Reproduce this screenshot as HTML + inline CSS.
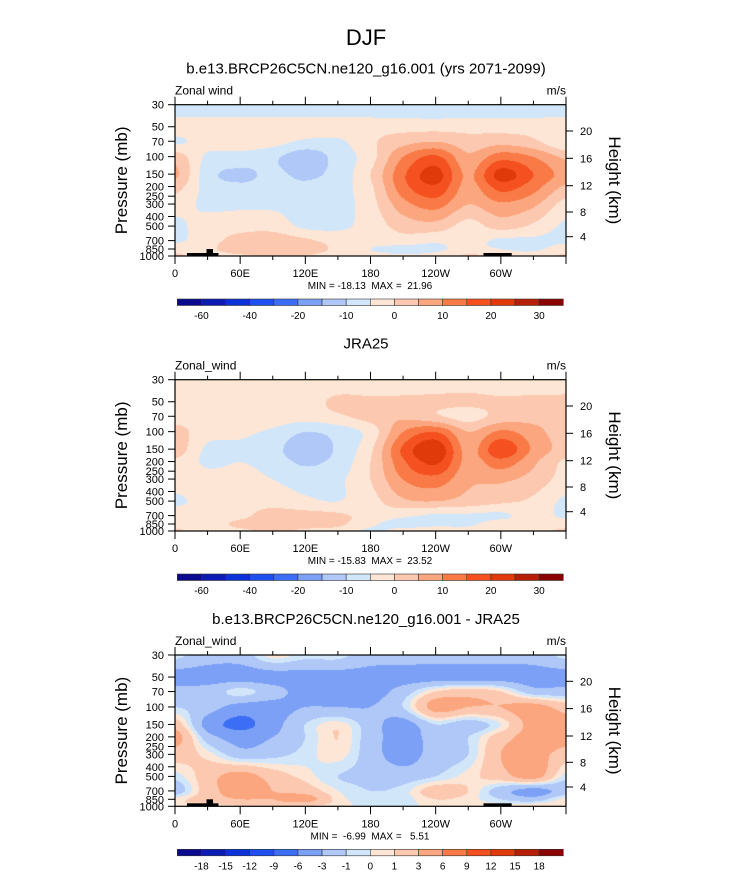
<!DOCTYPE html>
<html><head><meta charset="utf-8">
<style>
body{margin:0;background:#fff;width:733px;height:872px;overflow:hidden;position:relative;font-family:"Liberation Sans",sans-serif;}
canvas{position:absolute;left:0;top:0;}
svg{position:absolute;left:0;top:0;}
svg text{white-space:pre;}
</style></head>
<body>
<canvas id="cv" width="733" height="872"></canvas>
<svg id="sv" width="733" height="872" font-family="Liberation Sans, sans-serif">
<text x="366" y="45" font-size="22" text-anchor="middle">DJF</text>
</svg>
<script>
// ---------- data ----------
const lons = [0,30,60,90,120,150,180,210,240,270,300,330,360];
const levels = [30,50,70,100,150,200,300,500,700,850,1000];
const thresholdsA = [-60,-50,-40,-30,-20,-15,-10,-5,0,5,10,15,20,25,30];
const labelsA = ["-60","","-40","","-20","","-10","","0","","10","","20","","30"];
const thresholdsB = [-18,-15,-12,-9,-6,-3,-1,0,1,3,6,9,12,15,18];
const labelsB = ["-18","-15","-12","-9","-6","-3","-1","0","1","3","6","9","12","15","18"];
const lonTickLabels = ["0","60E","120E","180","120W","60W"];
const pTickLabels = [30,50,70,100,150,200,250,300,400,500,700,850,1000];
const heightTicks = [20,16,12,8,4];
const model = [
[-9,-9,-9,-9,-9,-9,-9,-9,-9,-9,-9,-9,-9],
[-2,-2,-2,-2,-2,-2,-2,-2,-2,-2,-2,-2,-2],
[-6,-3,-2,-3,-6,-6,-1,3,5,2,3,1,-5],
[3,-6,-7,-9,-13,-8,-2,10,16,6,13,10,4],
[6,-8,-11,-9,-11,-8,0,14,22,9,22,15,8],
[2,-7,-9,-8,-9,-7,-1,13,19,8,17,12,4],
[-3,-6,-6,-6,-7,-7,-2,8,12,5,9,6,-2],
[-6,-3,-2,-2,-6,-6,-3,2,3,-2,2,-1,-6],
[-6,-2,2,3,1,-2,-3,-2,-4,-3,-6,-6,-6],
[-2,-1,3,4,2,-1,-5,-7,-6,-3,-5,-6,-2],
[1,-2,-1,1,0,-2,-3,-4,-3,1,-1,-2,1]];
const obs = [
[-2,-2,-2,-2,-3,-3,-3,-2,-2,-2,-3,-2,-2],
[-2,-2,-2,-2,-2,1,1,1,1,1,1,1,1],
[-2,-2,-2,-2,-3,-1,2,4,1,-2,2,3,2],
[2,-3,-4,-6,-10,-8,-3,10,15,5,11,7,2],
[3,-6,-6,-8,-14,-9,-1,16,24,8,19,9,3],
[-1,-6,-5,-7,-11,-8,0,14,21,8,13,6,-1],
[-2,-3,-3,-5,-7,-6,0,10,13,6,6,3,-2],
[-6,-3,-2,-2,-4,-5,-2,4,5,3,1,-1,-6],
[-2,-2,-1,2,2,1,-2,-4,-6,-6,-6,-3,-6],
[-2,-2,1,2,2,1,-4,-7,-6,-6,-2,-3,-2],
[1,-2,-1,1,-1,-2,-6,-3,-2,-2,-1,-1,1]];
const diff = [
[-0.5,-2,-2,0.5,-0.5,-0.5,-2,-2,-2,-2,-2,-2,-0.5],
[-4,-4,-4,-4,-4,-4,-4,-4,-4,-4,-4,-4,-4],
[-2,-2,-0.5,-2,-4,-4,-4,-2,1,2,1,-2,-2],
[-1,-2,-4,-4,-3,-3,-3,-1,4,3,3,4,2],
[2,-4,-7,-4,-1,0.5,-2,-4,-1,-2,0,4,4],
[4,-2,-4,-3,-1,1,-2,-4,-2,-1,2,4,4],
[2,0.5,-2,-1.5,-0.5,0.5,-2,-4,-2,-1,3,4,2],
[-0.5,2,4,2,0.5,-1,-1.5,-2,-1,0.5,2,4,-0.5],
[-2,2,4,3,2,0,-1,-0.5,2,1,-2,-4,-2],
[0.5,2,3,3,4,0.5,-0.5,-0.5,1,0.5,-1,-2,0.5],
[1,0.5,1,2,1,0.5,-0.5,-0.5,0.5,0.5,0.5,1,1]];
const palette = ["#0a0a8f","#0a1cb4","#0a32d8","#1e50f0","#3c6ef5","#7ba0f5","#b0c8f8","#d2e6fa","#fde6d6","#fcc8b0","#fba67e","#f97a46","#f55020","#e03a0a","#b81e05","#8b0000"];

// ---------- layout ----------
const X0=175, W=391, H=151.3;
const panels=[
 {top:104.7,data:model,thr:thresholdsA,lab:labelsA,title:"b.e13.BRCP26C5CN.ne120_g16.001 (yrs 2071-2099)",left:"Zonal wind",mm:"MIN = -18.13  MAX =  21.96",topo:true},
 {top:379.7,data:obs,thr:thresholdsA,lab:labelsA,title:"JRA25",left:"Zonal_wind",mm:"MIN = -15.83  MAX =  23.52",topo:false},
 {top:655,data:diff,thr:thresholdsB,lab:labelsB,title:"b.e13.BRCP26C5CN.ne120_g16.001 - JRA25",left:"Zonal_wind",mm:"MIN =  -6.99  MAX =   5.51",topo:true}];
const xOf=lon=>X0+lon/360*W;
const yOf=(p,top)=>top+Math.log(p/30)/Math.log(1000/30)*H;
const hOff={20:26.3,16:53.6,12:81,8:107.3,4:132};

function cr(p0,p1,p2,p3,t){return 0.5*((2*p1)+(-p0+p2)*t+(2*p0-5*p1+4*p2-p3)*t*t+(-p0+3*p1-3*p2+p3)*t*t*t);}
function sample(g,fx,fy){
  const nr=g.length,nc=g[0].length;
  const ix=Math.min(Math.floor(fx),nc-2),iy=Math.min(Math.floor(fy),nr-2);
  const tx=fx-ix,ty=fy-iy;
  const rowv=[];
  for(let j=-1;j<=2;j++){
    const r=g[Math.max(0,Math.min(nr-1,iy+j))];
    const c=k=>r[Math.max(0,Math.min(nc-1,k))];
    rowv.push(cr(c(ix-1),c(ix),c(ix+1),c(ix+2),tx));
  }
  return cr(rowv[0],rowv[1],rowv[2],rowv[3],ty);
}
const lnL=levels.map(p=>Math.log(p));
function rowFrac(p){
  const lp=Math.log(p);
  for(let i=0;i<levels.length-1;i++){ if(lp<=lnL[i+1]) return i+(lp-lnL[i])/(lnL[i+1]-lnL[i]); }
  return levels.length-1;
}
const ctx=document.getElementById('cv').getContext('2d');
panels.forEach(pn=>{
  const x0=Math.round(X0),y0=Math.round(pn.top),w=Math.round(W),h=Math.round(H);
  const img=ctx.createImageData(w,h);
  const rgb=palette.map(c=>[parseInt(c.slice(1,3),16),parseInt(c.slice(3,5),16),parseInt(c.slice(5,7),16)]);
  for(let py=0;py<h;py++){
    const p=30*Math.exp((py+0.5)/H*Math.log(1000/30));
    const fy=rowFrac(p);
    for(let px=0;px<w;px++){
      const lon=(px+0.5)/W*360;
      const v=sample(pn.data,lon/30,fy);
      let k=0; for(const t of pn.thr) if(v>=t) k++;
      const c=rgb[k],o=(py*w+px)*4;
      img.data[o]=c[0];img.data[o+1]=c[1];img.data[o+2]=c[2];img.data[o+3]=255;
    }
  }
  ctx.putImageData(img,x0,y0);
});

// ---------- axes ----------
const NS="http://www.w3.org/2000/svg";
const sv=document.getElementById('sv');
function mk(tag,attrs,txt){const e=document.createElementNS(NS,tag);for(const k in attrs)e.setAttribute(k,attrs[k]);if(txt!==undefined)e.textContent=txt;sv.appendChild(e);return e;}
panels.forEach((pn,i)=>{
  const T=pn.top,B=T+H;
  let e;
  e=mk('text',{x:366,y:T-31,'font-size':15,'text-anchor':'middle'},pn.title);
  
  
  e=mk('text',{x:175,y:T-10,'font-size':12},pn.left);
  
  
  e=mk('text',{x:566,y:T-10,'font-size':12,'text-anchor':'end'},"m/s");
  
  
  if(pn.topo){
    e=mk('rect',{x:xOf(11),y:B-3,width:xOf(40)-xOf(11),height:3,fill:'#000'});
    
    
    e=mk('rect',{x:xOf(29),y:B-7,width:xOf(35)-xOf(29),height:7,fill:'#000'});
    
    
    e=mk('rect',{x:xOf(284),y:B-3,width:xOf(310)-xOf(284),height:3,fill:'#000'});
    
    
  }
  e=mk('rect',{x:X0,y:T,width:W,height:H,fill:'none',stroke:'#000','stroke-width':1.2});
  
  
  for(let lon=0;lon<=360;lon+=30){
    const maj=lon%60===0, L=maj?8:4, x=xOf(lon);
    mk('line',{x1:x,x2:x,y1:T,y2:T-L,stroke:'#000'});
    mk('line',{x1:x,x2:x,y1:B,y2:B+L,stroke:'#000'});
    if(maj&&lon<360){
      e=mk('text',{x:x,y:B+21,'font-size':11,'text-anchor':'middle'},lonTickLabels[lon/60]);
      
      
    }
  }
  pTickLabels.forEach(p=>{
    const y=yOf(p,T);
    mk('line',{x1:X0,x2:X0-7,y1:y,y2:y,stroke:'#000'});
    e=mk('text',{x:X0-11,y:y+4,'font-size':11,'text-anchor':'end'},p);
    
    
  });
  heightTicks.forEach(z=>{
    const y=T+hOff[z];
    mk('line',{x1:X0+W,x2:X0+W+7,y1:y,y2:y,stroke:'#000'});
    e=mk('text',{x:X0+W+14,y:y+4,'font-size':11},z);
    
    
  });
  const cy=T+H/2;
  e=mk('text',{x:0,y:0,'font-size':17,'text-anchor':'middle',transform:`translate(127,${cy}) rotate(-90)`},"Pressure (mb)");
  
  
  e=mk('text',{x:0,y:0,'font-size':17,'text-anchor':'middle',transform:`translate(609,${cy}) rotate(90)`},"Height (km)");
  
  
  e=mk('text',{x:370,y:B+33,'font-size':10,'text-anchor':'middle'},pn.mm);
  
  
  // colorbar
  const cbY=T+194.3, cbX=177.3, bw=(563.3-177.3)/16;
  palette.forEach((c,k)=>{
    e=mk('rect',{x:cbX+k*bw,y:cbY,width:bw,height:6.5,fill:c,stroke:'#333','stroke-width':0.6});
    
    
  });
  pn.lab.forEach((l,k)=>{
    if(!l) return;
    e=mk('text',{x:cbX+(k+1)*bw,y:cbY+20,'font-size':10,'text-anchor':'middle'},l);
    
    
  });
});
</script>
</body></html>
